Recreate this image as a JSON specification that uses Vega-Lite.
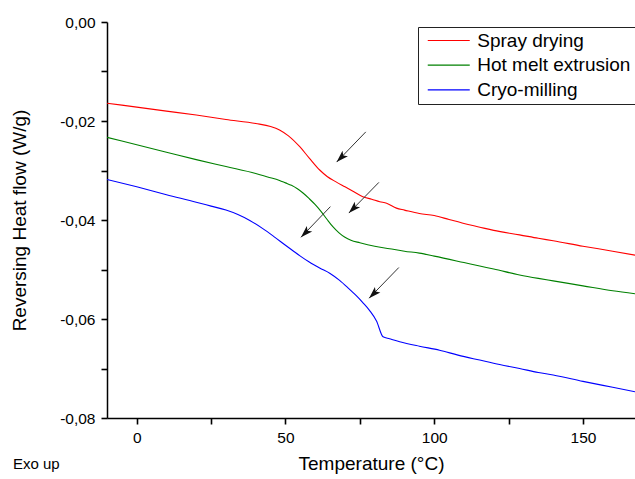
{
  "$schema": "https://vega.github.io/schema/vega-lite/v6.json",
  "width": 528,
  "height": 396,
  "autosize": {"type": "none"},
  "padding": {"left": 107, "top": 22, "right": 0, "bottom": 61},
  "config": {
    "font": "Liberation Sans",
    "view": {"stroke": null}
  },
  "title": {
    "text": "Exo up",
    "orient": "bottom",
    "anchor": "start",
    "frame": "group",
    "fontSize": 15,
    "fontWeight": "normal",
    "color": "black",
    "dx": -94,
    "offset": -17
  },
  "datasets": {
    "curves": [
      {"series": "Spray drying", "T": -10, "v": -0.0164},
      {"series": "Spray drying", "T": 0, "v": -0.0172},
      {"series": "Spray drying", "T": 10, "v": -0.0180},
      {"series": "Spray drying", "T": 20, "v": -0.0188},
      {"series": "Spray drying", "T": 30, "v": -0.0197},
      {"series": "Spray drying", "T": 40, "v": -0.0205},
      {"series": "Spray drying", "T": 45, "v": -0.0211},
      {"series": "Spray drying", "T": 48, "v": -0.0218},
      {"series": "Spray drying", "T": 51, "v": -0.0230},
      {"series": "Spray drying", "T": 54.8, "v": -0.0252},
      {"series": "Spray drying", "T": 58, "v": -0.0275},
      {"series": "Spray drying", "T": 61.5, "v": -0.0299},
      {"series": "Spray drying", "T": 64, "v": -0.0312},
      {"series": "Spray drying", "T": 67, "v": -0.0323},
      {"series": "Spray drying", "T": 70, "v": -0.0333},
      {"series": "Spray drying", "T": 73, "v": -0.0343},
      {"series": "Spray drying", "T": 76, "v": -0.0353},
      {"series": "Spray drying", "T": 79, "v": -0.0358},
      {"series": "Spray drying", "T": 81.7, "v": -0.0363},
      {"series": "Spray drying", "T": 84, "v": -0.0366},
      {"series": "Spray drying", "T": 87.3, "v": -0.0376},
      {"series": "Spray drying", "T": 90, "v": -0.0380},
      {"series": "Spray drying", "T": 95, "v": -0.0387},
      {"series": "Spray drying", "T": 100, "v": -0.0391},
      {"series": "Spray drying", "T": 105, "v": -0.0399},
      {"series": "Spray drying", "T": 110, "v": -0.0407},
      {"series": "Spray drying", "T": 115, "v": -0.0414},
      {"series": "Spray drying", "T": 120, "v": -0.0421},
      {"series": "Spray drying", "T": 128.7, "v": -0.0430},
      {"series": "Spray drying", "T": 135, "v": -0.0437},
      {"series": "Spray drying", "T": 140, "v": -0.0442},
      {"series": "Spray drying", "T": 150, "v": -0.0453},
      {"series": "Spray drying", "T": 160, "v": -0.0463},
      {"series": "Spray drying", "T": 167.5, "v": -0.0471},
      {"series": "Hot melt extrusion", "T": -10, "v": -0.0233},
      {"series": "Hot melt extrusion", "T": 0, "v": -0.0248},
      {"series": "Hot melt extrusion", "T": 10, "v": -0.0263},
      {"series": "Hot melt extrusion", "T": 20, "v": -0.0278},
      {"series": "Hot melt extrusion", "T": 30, "v": -0.0292},
      {"series": "Hot melt extrusion", "T": 40, "v": -0.0306},
      {"series": "Hot melt extrusion", "T": 44, "v": -0.0313},
      {"series": "Hot melt extrusion", "T": 48, "v": -0.0320},
      {"series": "Hot melt extrusion", "T": 50, "v": -0.0325},
      {"series": "Hot melt extrusion", "T": 52, "v": -0.0330},
      {"series": "Hot melt extrusion", "T": 54, "v": -0.0337},
      {"series": "Hot melt extrusion", "T": 56, "v": -0.0346},
      {"series": "Hot melt extrusion", "T": 58, "v": -0.0357},
      {"series": "Hot melt extrusion", "T": 60, "v": -0.0369},
      {"series": "Hot melt extrusion", "T": 62, "v": -0.0383},
      {"series": "Hot melt extrusion", "T": 64, "v": -0.0399},
      {"series": "Hot melt extrusion", "T": 66, "v": -0.0414},
      {"series": "Hot melt extrusion", "T": 68, "v": -0.0426},
      {"series": "Hot melt extrusion", "T": 70, "v": -0.0435},
      {"series": "Hot melt extrusion", "T": 72, "v": -0.0441},
      {"series": "Hot melt extrusion", "T": 75, "v": -0.0446},
      {"series": "Hot melt extrusion", "T": 80, "v": -0.0453},
      {"series": "Hot melt extrusion", "T": 85, "v": -0.0458},
      {"series": "Hot melt extrusion", "T": 90, "v": -0.0463},
      {"series": "Hot melt extrusion", "T": 95, "v": -0.0467},
      {"series": "Hot melt extrusion", "T": 100, "v": -0.0473},
      {"series": "Hot melt extrusion", "T": 110, "v": -0.0486},
      {"series": "Hot melt extrusion", "T": 115.3, "v": -0.0493},
      {"series": "Hot melt extrusion", "T": 120, "v": -0.0499},
      {"series": "Hot melt extrusion", "T": 128.7, "v": -0.0511},
      {"series": "Hot melt extrusion", "T": 135, "v": -0.0518},
      {"series": "Hot melt extrusion", "T": 140, "v": -0.0523},
      {"series": "Hot melt extrusion", "T": 150, "v": -0.0533},
      {"series": "Hot melt extrusion", "T": 160, "v": -0.0543},
      {"series": "Hot melt extrusion", "T": 167.5, "v": -0.0549},
      {"series": "Cryo-milling", "T": -10, "v": -0.0318},
      {"series": "Cryo-milling", "T": 0, "v": -0.0333},
      {"series": "Cryo-milling", "T": 10, "v": -0.0349},
      {"series": "Cryo-milling", "T": 20, "v": -0.0364},
      {"series": "Cryo-milling", "T": 25, "v": -0.0372},
      {"series": "Cryo-milling", "T": 30, "v": -0.0380},
      {"series": "Cryo-milling", "T": 34, "v": -0.0389},
      {"series": "Cryo-milling", "T": 38, "v": -0.0401},
      {"series": "Cryo-milling", "T": 42.5, "v": -0.0418},
      {"series": "Cryo-milling", "T": 46, "v": -0.0433},
      {"series": "Cryo-milling", "T": 50, "v": -0.0451},
      {"series": "Cryo-milling", "T": 52.5, "v": -0.0462},
      {"series": "Cryo-milling", "T": 55, "v": -0.0473},
      {"series": "Cryo-milling", "T": 58, "v": -0.0485},
      {"series": "Cryo-milling", "T": 61.5, "v": -0.0497},
      {"series": "Cryo-milling", "T": 65, "v": -0.0508},
      {"series": "Cryo-milling", "T": 68.2, "v": -0.0522},
      {"series": "Cryo-milling", "T": 71, "v": -0.0537},
      {"series": "Cryo-milling", "T": 73.8, "v": -0.0553},
      {"series": "Cryo-milling", "T": 76, "v": -0.0567},
      {"series": "Cryo-milling", "T": 78.3, "v": -0.0583},
      {"series": "Cryo-milling", "T": 80.6, "v": -0.0604},
      {"series": "Cryo-milling", "T": 82.8, "v": -0.0636},
      {"series": "Cryo-milling", "T": 85, "v": -0.0640},
      {"series": "Cryo-milling", "T": 88.4, "v": -0.0646},
      {"series": "Cryo-milling", "T": 95, "v": -0.0655},
      {"series": "Cryo-milling", "T": 101.8, "v": -0.0663},
      {"series": "Cryo-milling", "T": 108, "v": -0.0673},
      {"series": "Cryo-milling", "T": 115.3, "v": -0.0683},
      {"series": "Cryo-milling", "T": 122, "v": -0.0692},
      {"series": "Cryo-milling", "T": 128.7, "v": -0.0700},
      {"series": "Cryo-milling", "T": 135, "v": -0.0708},
      {"series": "Cryo-milling", "T": 140, "v": -0.0713},
      {"series": "Cryo-milling", "T": 150, "v": -0.0726},
      {"series": "Cryo-milling", "T": 160, "v": -0.0738},
      {"series": "Cryo-milling", "T": 167.5, "v": -0.0747}
    ],
    "arrows": [
      {"t1": 77.0, "v1": -0.0222, "t2": 67.2, "v2": -0.0283},
      {"t1": 81.4, "v1": -0.0324, "t2": 71.3, "v2": -0.0386},
      {"t1": 65.1, "v1": -0.0373, "t2": 55.2, "v2": -0.0435},
      {"t1": 88.1, "v1": -0.0496, "t2": 78.1, "v2": -0.0558}
    ]
  },
  "layer": [
    {
      "data": {"name": "curves"},
      "mark": {"type": "line", "interpolate": "monotone", "strokeWidth": 1.1, "clip": true},
      "encoding": {
        "x": {
          "field": "T",
          "type": "quantitative",
          "scale": {"domain": [-10, 167.5], "nice": false, "zero": false},
          "axis": {
            "orient": "bottom",
            "title": "Temperature (°C)",
            "values": [0, 25, 50, 75, 100, 125, 150],
            "labelExpr": "datum.value % 50 == 0 ? datum.label : ''",
            "grid": false,
            "ticks": true,
            "tickSize": 6,
            "tickColor": "#000000",
            "tickWidth": 1.6,
            "domainColor": "#000000",
            "domainWidth": 1.5,
            "labelColor": "#000000",
            "labelFontSize": 15.5,
            "labelFlush": false,
            "labelOverlap": false,
            "labelPadding": 6,
            "titleColor": "#000000",
            "titleFontSize": 19,
            "titleFontWeight": "normal",
            "titlePadding": 9
          }
        },
        "y": {
          "field": "v",
          "type": "quantitative",
          "scale": {"domain": [-0.08, 0], "nice": false, "zero": false},
          "axis": {
            "orient": "left",
            "title": "Reversing Heat flow (W/g)",
            "values": [0, -0.01, -0.02, -0.03, -0.04, -0.05, -0.06, -0.07, -0.08],
            "labelExpr": "round(datum.value * 100) % 2 == 0 ? replace(replace(format(datum.value, '.2f'), '.', ','), '−', '-') : ''",
            "grid": false,
            "ticks": true,
            "tickSize": 6,
            "tickColor": "#000000",
            "tickWidth": 1.6,
            "domainColor": "#000000",
            "domainWidth": 1.5,
            "labelColor": "#000000",
            "labelFontSize": 15.5,
            "labelFlush": false,
            "labelOverlap": false,
            "labelPadding": 6,
            "titleColor": "#000000",
            "titleFontSize": 19,
            "titleFontWeight": "normal",
            "titlePadding": 30
          }
        },
        "color": {
          "field": "series",
          "type": "nominal",
          "scale": {
            "domain": ["Spray drying", "Hot melt extrusion", "Cryo-milling"],
            "range": ["#ff0000", "#008000", "#0000ff"]
          },
          "legend": {
            "title": null,
            "orient": "none",
            "legendX": 311,
            "legendY": 5,
            "symbolType": "M-4.2,0H4.2",
            "symbolSize": 100,
            "symbolStrokeWidth": 1.2,
            "symbolOffset": 17.25,
            "labelOffset": 19,
            "labelFontSize": 19,
            "labelColor": "black",
            "labelLimit": 400,
            "strokeColor": "#222222",
            "fillColor": "white",
            "padding": 4,
            "rowPadding": 4.7
          }
        }
      }
    },
    {
      "data": {"name": "arrows"},
      "mark": {"type": "rule", "color": "#333333", "strokeWidth": 1},
      "encoding": {
        "x": {"field": "t1", "type": "quantitative"},
        "y": {"field": "v1", "type": "quantitative"},
        "x2": {"field": "t2"},
        "y2": {"field": "v2"}
      }
    },
    {
      "data": {"name": "arrows"},
      "mark": {"type": "point", "shape": "M0,0L-0.7,2.2L0,1.7L0.7,2.2Z", "filled": true, "color": "#111111", "opacity": 1, "size": 121, "angle": 225},
      "encoding": {
        "x": {"field": "t2", "type": "quantitative"},
        "y": {"field": "v2", "type": "quantitative"}
      }
    }
  ]
}
